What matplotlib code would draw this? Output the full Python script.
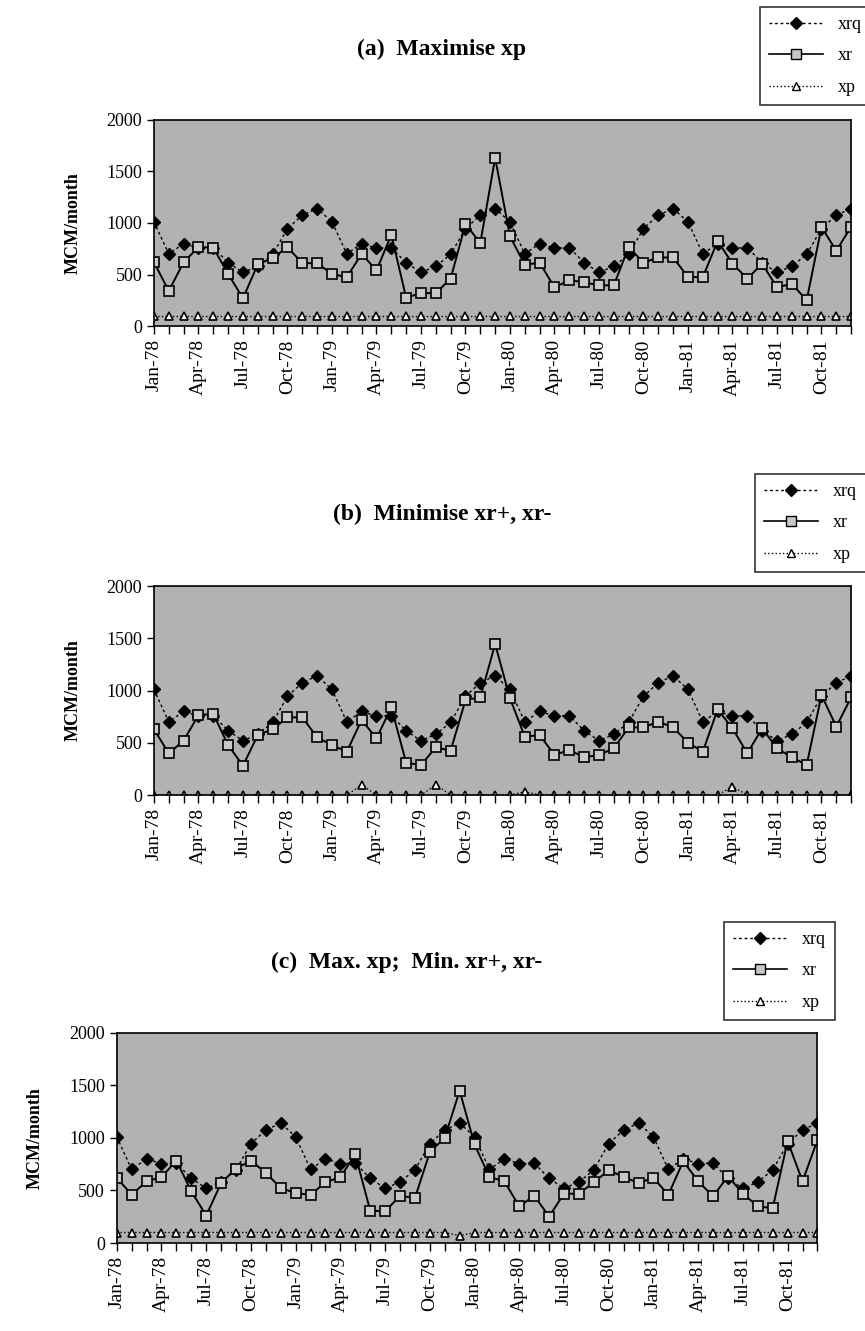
import matplotlib
matplotlib.use("Agg")
import matplotlib.pyplot as plt
from matplotlib.lines import Line2D

plt.rcParams['font.family'] = ['Liberation Serif', 'DejaVu Serif']

# monthly labels Jan-78 .. Dec-81
months = ['Jan', 'Feb', 'Mar', 'Apr', 'May', 'Jun', 'Jul', 'Aug', 'Sep', 'Oct', 'Nov', 'Dec']
years = ['78', '79', '80', '81']
labels = [m + '-' + y for y in years for m in months]
x = list(range(len(labels)))

# demand xrq (same in all three runs)
xrq = [1010, 700, 800, 755, 760, 615, 520, 580, 695, 945, 1075, 1140,
       1010, 700, 800, 755, 760, 615, 520, 580, 695, 945, 1075, 1140,
       1010, 700, 800, 755, 760, 615, 520, 580, 695, 945, 1075, 1140,
       1010, 700, 800, 755, 760, 615, 520, 580, 695, 945, 1075, 1140]

# (a) Maximise xp
xr_a = [620, 340, 620, 765, 760, 505, 270, 600, 660, 765, 610, 610,
        505, 475, 700, 540, 885, 275, 320, 320, 460, 990, 805, 1630,
        870, 595, 615, 375, 445, 425, 395, 395, 765, 615, 665, 665,
        475, 475, 825, 605, 460, 605, 375, 410, 250, 960, 730, 965]
xp_a = [100] * 48

# (b) Minimise xr+, xr-
xr_b = [629, 399, 520, 766, 775, 478, 281, 574, 629, 743, 743, 552,
        478, 415, 718, 542, 839, 309, 287, 456, 424, 909, 935, 1445,
        925, 558, 574, 383, 431, 361, 383, 447, 647, 647, 702, 647,
        501, 415, 820, 638, 399, 638, 447, 361, 287, 957, 654, 935]
xp_b = [0, 0, 0, 0, 0, 0, 0, 0, 0, 0, 0, 0,
        0, 0, 96, 0, 0, 0, 0, 96, 0, 0, 0, 0,
        0, 30, 0, 0, 0, 0, 0, 0, 0, 0, 0, 0,
        0, 0, 0, 80, 0, 0, 0, 0, 0, 0, 0, 0]

# (c) Max. xp; Min. xr+, xr-
xr_c = [620, 460, 587, 628, 784, 491, 261, 571, 708, 784, 667, 523,
        475, 459, 577, 628, 842, 309, 300, 450, 427, 864, 1001, 1448,
        937, 628, 587, 348, 450, 252, 469, 469, 577, 692, 628, 571,
        619, 459, 778, 587, 444, 635, 470, 348, 332, 970, 587, 979]
xp_c = [100, 100, 100, 100, 100, 100, 100, 100, 100, 100, 100, 100,
        100, 100, 100, 100, 100, 100, 100, 100, 100, 100, 100, 70,
        100, 100, 100, 100, 100, 100, 100, 100, 100, 100, 100, 100,
        100, 100, 100, 100, 100, 100, 100, 100, 100, 100, 100, 100]

panels = [
    ("(a)  Maximise xp", xr_a, xp_a, [0.178, 0.755, 0.806, 0.155], 49, (760, 7)),
    ("(b)  Minimise xr+, xr-", xr_b, xp_b, [0.178, 0.4027, 0.806, 0.157], 514, (755, 474)),
    ("(c)  Max. xp;  Min. xr+, xr-", xr_c, xp_c, [0.135, 0.0661, 0.810, 0.158], 962, (724, 922)),
]

W, H = 865, 1331
fig = plt.figure(figsize=(W / 100, H / 100), dpi=100)

for title, xr, xp, pos, ty, lpos in panels:
    ax = fig.add_axes(pos)
    ax.set_facecolor('#b2b2b2')
    ax.plot(x, xrq, color='black', ls=(0, (2, 2)), lw=1, marker='D', ms=6,
            mfc='black', mec='black', label='xrq')
    ax.plot(x, xr, color='black', ls='-', lw=1.4, marker='s', ms=6.5,
            mfc='#c8c8c8', mec='black', mew=1.2, label='xr')
    ax.plot(x, xp, color='black', ls=':', lw=1, marker='^', ms=6,
            mfc='white', mec='black', mew=1.2, label='xp')
    ax.set_xlim(0, 47)
    ax.set_ylim(0, 2000)
    ax.set_yticks([0, 500, 1000, 1500, 2000])
    ax.set_xticks(x[::3])
    ax.set_xticklabels(labels[::3], rotation=90, fontsize=14)
    ax.set_xticks(x, minor=True)
    ax.tick_params(axis='y', labelsize=13, direction='out', length=5, width=1)
    ax.tick_params(axis='x', which='both', direction='out', length=6, width=1)
    ax.set_ylabel('MCM/month', fontsize=13, fontweight='bold', labelpad=18)
    for s in ax.spines.values():
        s.set_linewidth(1.2)
    fig.text(0.5 * (pos[0] * 2 + pos[2]) - 0.07, 1 - ty / H, title, ha='center', va='center',
             fontsize=17, fontweight='bold')

    handles = [
        Line2D([], [], color='black', ls=(0, (2, 2)), lw=1, marker='D', ms=6, mfc='black'),
        Line2D([], [], color='black', ls='-', lw=1.2, marker='s', ms=6.5, mfc='#c8c8c8', mec='black'),
        Line2D([], [], color='black', ls=':', lw=1, marker='^', ms=6, mfc='white', mec='black'),
    ]
    leg = fig.legend(handles, ['xrq', 'xr', 'xp'], loc='upper left',
                     bbox_to_anchor=(lpos[0] / W, 1 - lpos[1] / H), fontsize=13,
                     frameon=True, fancybox=False, edgecolor='black', handlelength=3,
                     borderpad=0.5, labelspacing=0.8, borderaxespad=0)
    leg.get_frame().set_linewidth(1.2)

fig.savefig('out.png', dpi=100)
